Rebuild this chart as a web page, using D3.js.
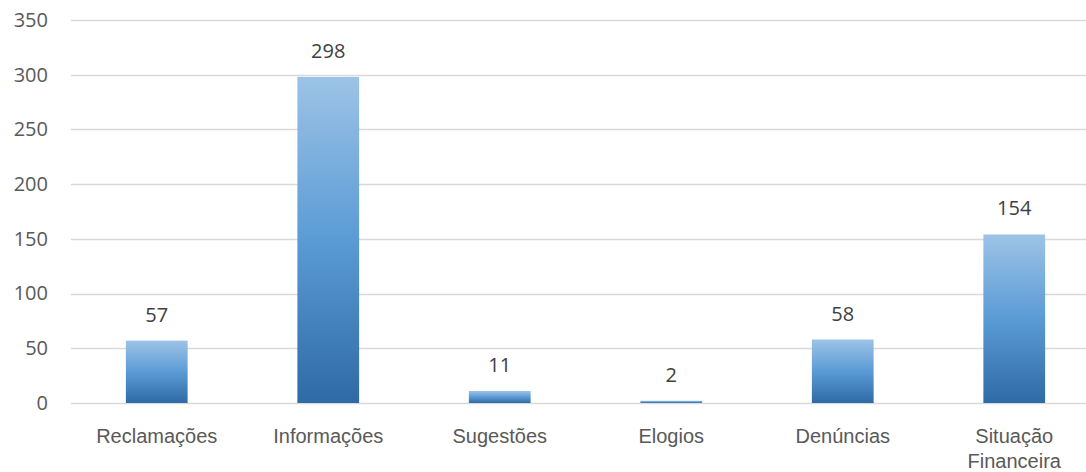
<!DOCTYPE html>
<html>
<head>
<meta charset="utf-8">
<script src="https://cdn.jsdelivr.net/npm/d3@7"></script>
<style>
  html, body { margin: 0; padding: 0; background: #fff; }
  svg { display: block; font-family: "Open Sans", "Noto Sans", sans-serif; }
</style>
</head>
<body>
<svg id="chart" width="1086" height="472"></svg>
<script>
// Manifestações por tipo
const categories = ["Reclamações", "Informações", "Sugestões", "Elogios", "Denúncias", "Situação Financeira"];
const values = [57, 298, 11, 2, 58, 154];
const yTicks = [0, 50, 100, 150, 200, 250, 300, 350];

const svg = d3.select("#chart");
const margin = { left: 71, right: -14, top: 20, bottom: 69 };
const W = 1086, H = 472;
const fontSize = "20px";

const x = d3.scaleBand()
  .domain(categories)
  .range([margin.left, W - margin.right])
  .paddingInner(0.64)
  .paddingOuter(0.32);

const y = d3.scaleLinear()
  .domain([0, 350])
  .range([H - margin.bottom, margin.top]);

// bar gradient: light blue on top, darker blue at the base
const defs = svg.append("defs");
const grad = defs.append("linearGradient")
  .attr("id", "barGrad")
  .attr("x1", 0).attr("y1", 0).attr("x2", 0).attr("y2", 1);
grad.append("stop").attr("offset", "0%").attr("stop-color", "#9dc3e6");
grad.append("stop").attr("offset", "50%").attr("stop-color", "#5b9bd5");
grad.append("stop").attr("offset", "100%").attr("stop-color", "#2e6aa6");

// horizontal gridlines
svg.append("g")
  .selectAll("line")
  .data(yTicks)
  .join("line")
  .attr("x1", margin.left)
  .attr("x2", W)
  .attr("y1", d => Math.round(y(d)) + 0.5)
  .attr("y2", d => Math.round(y(d)) + 0.5)
  .attr("stroke", "#d9d9d9")
  .attr("stroke-width", 1.5);

// y axis labels
const yAxis = d3.axisLeft(y).tickValues(yTicks).tickSize(0).tickPadding(0);
const gy = svg.append("g")
  .attr("transform", `translate(${margin.left - 23},0)`)
  .call(yAxis);
gy.select(".domain").remove();
gy.selectAll("text")
  .attr("fill", "#595959")
  .style("font-size", fontSize)
  .style("font-family", "'Open Sans', sans-serif");

// bars
svg.append("g")
  .selectAll("rect")
  .data(values)
  .join("rect")
  .attr("x", (d, i) => x(categories[i]))
  .attr("width", x.bandwidth())
  .attr("y", d => y(d))
  .attr("height", d => y(0) - y(d))
  .attr("fill", "url(#barGrad)");

// value labels
svg.append("g")
  .selectAll("text")
  .data(values)
  .join("text")
  .attr("x", (d, i) => x(categories[i]) + x.bandwidth() / 2)
  .attr("y", d => y(d) - 19)
  .attr("text-anchor", "middle")
  .attr("fill", "#404040")
  .style("font-size", fontSize)
  .text(d => d);

// category labels; the long one wraps onto two lines
const xAxis = d3.axisBottom(x).tickSize(0).tickPadding(0);
const gx = svg.append("g")
  .attr("transform", `translate(0,${y(0)})`)
  .call(xAxis);
gx.select(".domain").remove();
gx.selectAll("text").remove();
gx.selectAll(".tick").each(function(d) {
  const words = d === "Situação Financeira" ? d.split(" ") : [d];
  const t = d3.select(this).append("text")
    .attr("text-anchor", "middle")
    .attr("fill", "#595959")
    .style("font-size", fontSize);
  words.forEach((w, i) => {
    t.append("tspan").attr("x", 0).attr("y", 40 + i * 25).text(w);
  });
});
</script>
</body>
</html>
